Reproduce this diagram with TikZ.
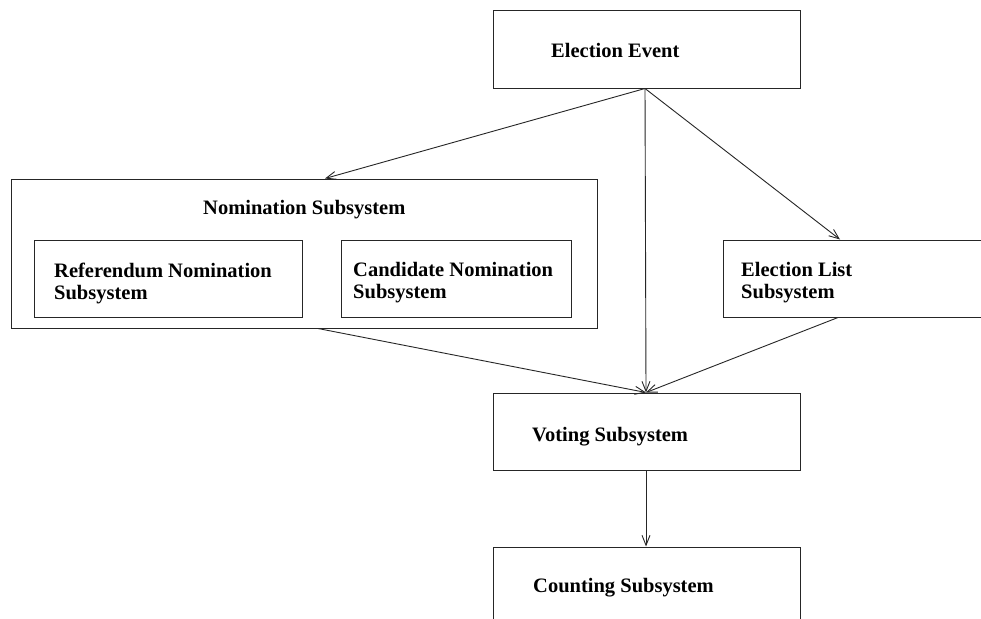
\documentclass[tikz,border=0pt]{standalone}
\usepackage{fontspec}
\setmainfont{Liberation Serif}
\usetikzlibrary{arrows.meta}
\begin{document}
\begin{tikzpicture}[x=1pt,y=-1pt,
  box/.style={draw=black!85,line width=1pt,inner sep=0pt,minimum width=#1},
  lbl/.style={anchor=base west,inner sep=0pt,align=left,font=\fontsize{20.5}{22}\selectfont\bfseries},
  lbltwo/.style={lbl,anchor=west},
  link/.style={draw=black!85,line width=0.9pt,-{Straight Barb[length=10pt,width=8pt,line width=0.9pt]}}]
\clip (0,0) rectangle (981,618);
\fill[white] (0,0) rectangle (981,618);

% boxes
\node[box=307pt,minimum height=77pt] (event) at (646.5,49.5) {};
\node[box=586pt,minimum height=149pt] (nom) at (304,253.5) {};
\node[box=268pt,minimum height=77pt] (ref) at (168,278.5) {};
\node[box=230pt,minimum height=77pt] (cand) at (456,278.5) {};
\node[box=277pt,minimum height=77pt] (elist) at (861.5,278.5) {};
\node[box=307pt,minimum height=77pt] (vote) at (646.5,431.5) {};
\node[box=307pt,minimum height=100pt] (count) at (646.5,597) {};

% labels
\node[lbl] (eventt) at (551,57) {Election Event};
\node[lbl] (nomt) at (203,214) {Nomination Subsystem};
\node[lbltwo] (reft) at (54,283) {Referendum Nomination\\Subsystem};
\node[lbltwo] (candt) at (353,283) {Candidate Nomination\\Subsystem};
\node[lbltwo] (elistt) at (741,283) {Election List\\Subsystem};
\node[lbl] (votet) at (532,441) {Voting Subsystem};
\node[lbl] (countt) at (533,592) {Counting Subsystem};

% connectors
\draw[link] ([xshift=-1.5pt]event.south) -- ([xshift=21pt]nom.north);
\draw[link] ([xshift=-1.5pt]event.south) -- ([xshift=-21.5pt]elist.north);
\draw[link] ([xshift=-1.5pt]event.south) -- ([xshift=-0.5pt]vote.north);
\draw[link] ([xshift=14pt]nom.south) -- ([xshift=-0.5pt]vote.north);
\draw[link] ([xshift=-23.5pt]elist.south) -- ([xshift=-0.5pt]vote.north);
\draw[link] ([xshift=-0.5pt]vote.south) -- ([xshift=-0.5pt]count.north);
\end{tikzpicture}
\end{document}
